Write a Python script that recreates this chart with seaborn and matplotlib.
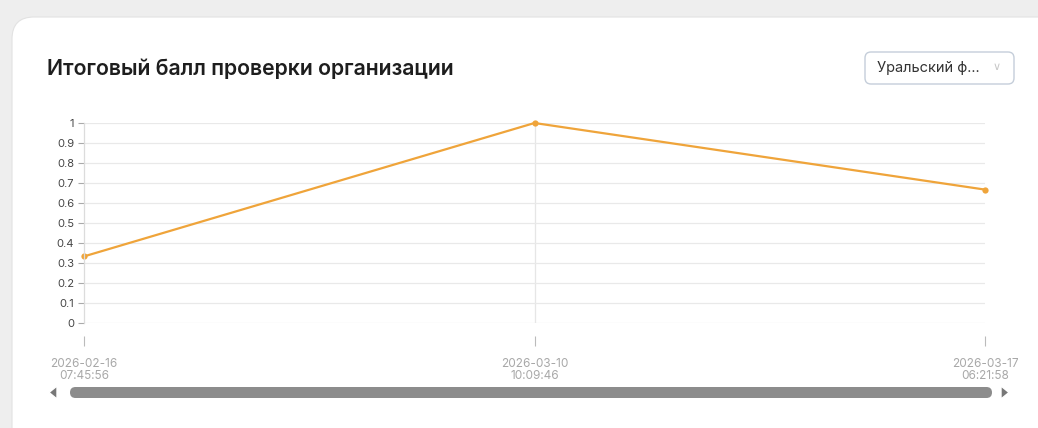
import matplotlib
matplotlib.use("Agg")
import matplotlib.pyplot as plt
from matplotlib.patches import FancyBboxPatch, Polygon
from matplotlib.transforms import IdentityTransform
import seaborn as sns
import pandas as pd

# data
dates = ["2026-02-16\n07:45:56", "2026-03-10\n10:09:46", "2026-03-17\n06:21:58"]
scores = [0.333, 1.0, 0.667]
y_ticks = [0, 0.1, 0.2, 0.3, 0.4, 0.5, 0.6, 0.7, 0.8, 0.9, 1]
y_labels = ["0", "0.1", "0.2", "0.3", "0.4", "0.5", "0.6", "0.7", "0.8", "0.9", "1"]
title = "Итоговый балл проверки организации"
region = "Уральский ф..."

W, H = 1038, 428
line_color = "#efa43a"

sns.set_theme(style="white")
plt.rcParams['font.family'] = ['Inter', 'DejaVu Sans']

fig = plt.figure(figsize=(W / 100, H / 100), dpi=100)
fig.patch.set_facecolor("#eeeeee")
px = IdentityTransform()  # pixel coords, origin bottom-left


def fx(x):
    return x / W


def fy(y):
    return 1 - y / H


def box(x0, y0, x1, y1, r, **kw):
    # rectangle given in top-left pixel coords
    p = FancyBboxPatch((x0, H - y1), x1 - x0, y1 - y0,
                       boxstyle=f"round,pad=0,rounding_size={r}",
                       transform=px, **kw)
    fig.patches.append(p)
    return p


# card
box(12, 17, 1080, 500, 22, facecolor="white", edgecolor="#e2e2e2",
    linewidth=0.8, zorder=-10)

fig.text(fx(47), fy(69), title, fontsize=15.3, fontweight="semibold",
         color="#1e1e1e", va="center", ha="left")

# dropdown
box(865, 52, 1014, 84, 6, facecolor="white", edgecolor="#c5ceda", linewidth=1.0)
fig.text(fx(877), fy(68), region, fontsize=10.5, color="#333333", va="center", ha="left")
fig.text(fx(997), fy(67), "∨", fontsize=8, color="#c8c8c8", va="center", ha="center",
         family="DejaVu Sans")

# chart
ax = fig.add_axes([fx(84), fy(323), fx(985) - fx(84), fy(123) - fy(323)])
ax.set_facecolor("none")
df = pd.DataFrame({"date": dates, "score": scores})
sns.lineplot(data=df, x="date", y="score", ax=ax, color=line_color, linewidth=1.6,
             marker="o", markersize=4.5, markeredgewidth=0, sort=False)
for ln in ax.lines:
    ln.set_clip_on(False)

ax.set_xlim(0, len(dates) - 1)
ax.set_ylim(0, 1)
ax.set_yticks(y_ticks)
ax.set_yticklabels(y_labels)
ax.set_xlabel("")
ax.set_ylabel("")

ax.grid(axis="y", color="#e9e9e9", linewidth=0.9)
ax.axvline(1, color="#e6e6e6", linewidth=0.9, zorder=0)

for s in ["top", "right"]:
    ax.spines[s].set_visible(False)
ax.spines["left"].set_color("#dcdcdc")
ax.spines["left"].set_linewidth(0.9)
ax.spines["bottom"].set_position(("outward", 9))
ax.spines["bottom"].set_visible(False)

ax.tick_params(axis="y", length=4, width=0.8, color="#aaaaaa", labelsize=8,
               labelcolor="#444444", pad=3, left=True)
ax.tick_params(axis="x", length=7.5, width=0.8, color="#bbbbbb", labelsize=8.5,
               labelcolor="#a8a8a8", pad=8.5, bottom=True)
for lab in ax.get_xticklabels():
    lab.set_multialignment("center")
    lab.set_linespacing(1.05)

# scrollbar
box(70, 387, 992, 398, 5.5, facecolor="#8c8c8c", edgecolor="none")
fig.patches.append(Polygon([[49, H - 392.5], [57, H - 386], [57, H - 399]],
                           closed=True, transform=px, facecolor="#777777"))
fig.patches.append(Polygon([[1009, H - 392.5], [1001, H - 386], [1001, H - 399]],
                           closed=True, transform=px, facecolor="#777777"))

fig.savefig("out.png", dpi=100, facecolor=fig.get_facecolor())
